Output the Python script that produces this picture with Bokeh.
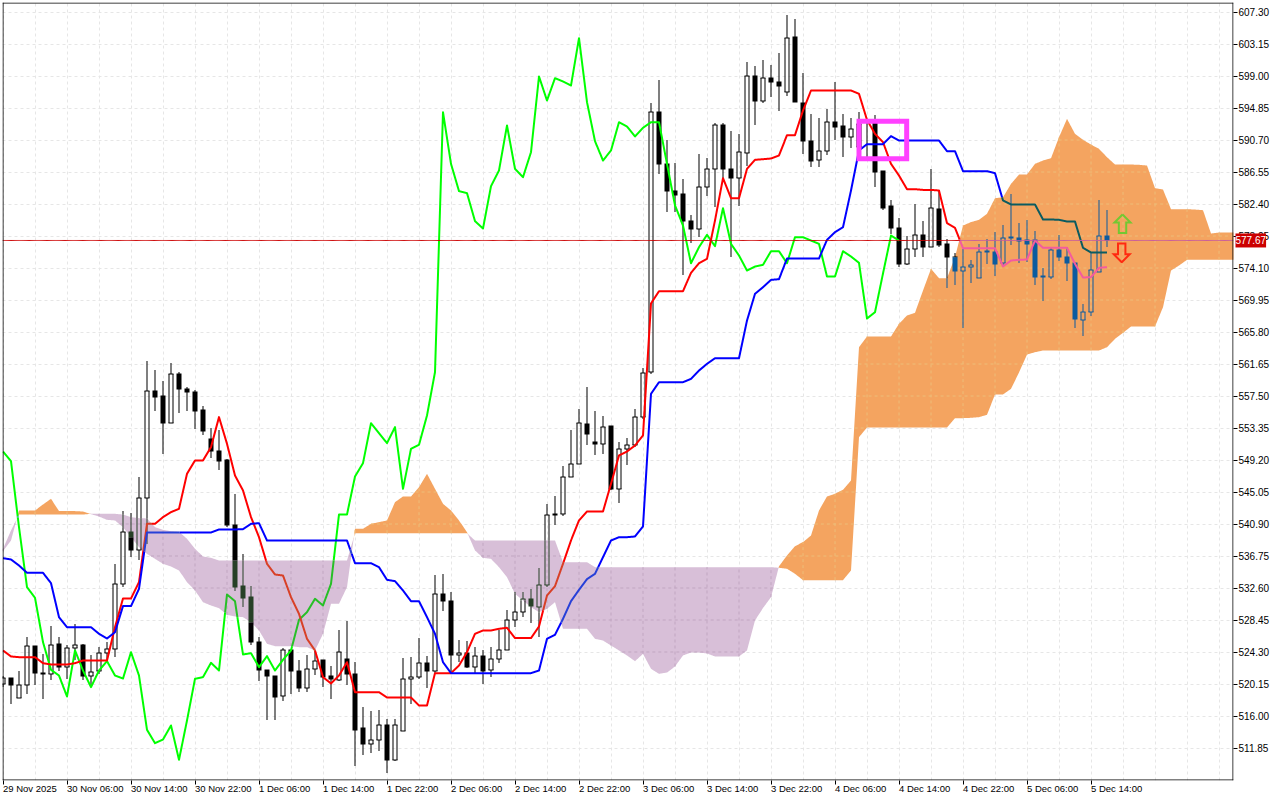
import numpy as np
from bokeh.embed import file_html
from bokeh.resources import INLINE
from bokeh.plotting import figure
from bokeh.models import FixedTicker, Label, Range1d, PrintfTickFormatter, LinearAxis

# ---- chart values -------------------------------------------------------
opens = [520.17,520.95,518.36,520.00,525.10,521.64,521.47,525.36,522.34,524.84,525.23,521.21,521.90,524.15,524.71,533.10,539.89,537.51,544.30,558.17,
 557.44,553.98,560.38,558.43,558.04,555.62,551.95,550.39,549.14,540.71,532.80,531.37,525.62,521.99,521.21,518.57,524.58,521.90,519.61,522.12,
 523.20,521.25,520.65,523.42,521.51,514.38,512.39,512.91,514.86,510.27,514.08,520.82,521.04,522.90,521.82,531.85,530.94,523.93,524.19,522.38,
 523.80,521.95,523.42,524.58,528.47,529.51,531.20,530.16,532.97,542.22,542.18,547.02,548.71,553.89,551.56,551.30,553.55,545.46,550.65,551.13,
 554.76,560.55,594.39,587.61,584.15,583.72,580.26,579.18,584.58,586.96,592.71,586.96,585.79,589.03,599.02,595.78,598.76,598.24,596.94,604.08,
 595.52,590.59,588.13,589.29,593.05,592.54,591.07,589.77,593.31,592.88,586.74,582.08,579.31,574.64,576.59,578.40,576.80,581.77,577.15,575.59,
 573.73,574.21,572.83,576.28,576.20,574.73,578.14,578.01,577.75,577.75,572.99,572.91,576.37,575.59,574.77,567.38,568.42,573.56,578.27]
highs = [521.25,520.95,521.90,526.31,525.10,523.98,527.61,526.31,525.27,527.95,525.36,523.85,525.01,525.66,535.65,542.65,542.39,547.06,561.98,560.81,
 559.51,561.72,560.64,558.73,558.22,556.14,553.37,553.11,549.35,544.81,537.03,532.88,526.31,521.99,521.21,524.84,524.58,523.29,523.85,524.50,
 523.20,522.42,527.18,528.26,522.94,517.23,516.59,516.84,515.55,515.55,523.46,523.59,526.14,523.72,534.35,534.44,532.10,525.92,525.79,524.93,
 524.50,525.01,527.18,529.77,532.02,532.06,532.49,535.13,543.43,544.47,548.36,553.03,555.84,558.73,555.49,554.93,553.63,551.56,552.08,555.84,
 561.07,595.52,598.42,590.76,587.69,585.66,580.91,588.90,588.39,592.92,592.92,591.93,591.50,600.88,600.36,601.10,600.49,601.96,606.97,606.33,
 599.37,594.09,593.57,594.74,598.28,594.09,593.49,594.39,593.40,594.00,586.74,582.94,580.61,578.19,582.42,580.18,586.96,584.24,577.88,576.02,
 576.54,575.16,577.15,577.88,578.71,579.70,583.72,579.92,580.35,578.84,574.04,576.80,578.32,576.80,574.77,569.45,576.11,582.86,581.65]
lows = [519.74,517.58,518.36,518.88,520.00,518.18,520.61,521.82,520.78,523.20,520.61,519.74,521.47,523.20,523.63,532.71,536.60,536.17,538.33,555.54,
 549.92,553.98,555.28,555.54,553.20,552.38,549.40,547.84,540.49,532.19,530.12,525.27,520.52,515.42,515.42,517.93,518.79,519.09,519.09,521.38,
 519.74,518.18,520.52,519.96,509.58,510.92,511.18,511.44,508.59,510.14,514.08,517.58,520.86,519.65,521.56,529.68,521.56,522.94,522.21,521.56,
 520.17,521.04,522.85,524.58,527.52,528.82,528.04,526.23,532.71,540.71,541.96,547.02,548.71,551.21,549.79,549.92,545.25,543.60,548.49,550.87,
 554.54,560.38,586.31,581.34,581.34,573.13,577.32,578.10,583.50,582.07,585.45,575.50,582.12,587.30,592.62,595.47,596.25,594.52,596.38,595.60,
 588.82,587.17,587.17,588.73,590.76,588.56,589.60,589.34,588.47,584.58,581.68,578.53,574.21,574.43,575.51,575.51,576.80,576.80,571.53,571.96,
 566.30,572.13,572.83,574.56,573.04,574.43,577.02,574.73,574.86,571.88,569.80,572.65,574.99,572.39,566.26,565.26,567.90,573.56,576.80]
closes = [520.95,520.00,520.00,525.10,521.56,521.47,525.23,522.34,524.84,525.23,521.25,521.69,524.15,524.67,533.14,539.89,537.51,544.30,558.17,557.35,
 553.98,560.38,558.39,558.00,555.54,552.94,550.35,549.05,540.71,532.71,531.28,525.58,521.95,521.17,518.44,524.58,521.82,519.61,522.12,523.16,
 521.04,520.74,524.32,521.43,514.21,512.35,512.91,514.86,510.27,514.86,520.82,521.08,522.90,521.86,531.85,530.94,523.89,524.19,522.34,523.80,
 521.86,523.42,524.58,528.47,529.51,531.20,530.29,533.01,542.09,542.09,547.02,548.71,554.02,552.55,551.26,553.50,545.42,550.65,551.17,554.80,
 560.51,594.39,587.56,584.06,583.63,580.26,579.13,584.63,586.96,592.67,586.92,585.75,589.16,599.06,595.73,598.76,598.20,597.72,603.95,595.60,
 590.55,587.95,589.29,593.05,592.36,591.07,592.15,592.79,592.97,586.61,581.90,579.27,574.56,576.59,578.40,576.80,581.90,577.06,575.51,573.69,
 574.25,574.51,576.20,576.20,574.60,578.01,577.97,577.58,577.19,572.91,572.91,576.37,575.51,574.73,567.47,568.42,573.78,578.27,577.67]
tenkan = [524.50,523.72,523.63,523.63,523.63,522.85,522.68,522.68,522.68,522.85,523.20,523.20,523.20,523.20,527.52,531.24,531.24,533.36,540.92,540.92,
 541.79,542.44,542.87,547.41,549.14,549.14,550.87,554.76,551.30,547.19,545.25,541.79,539.19,535.74,534.35,534.22,531.41,529.25,526.01,524.50,
 521.04,520.22,521.25,522.98,519.09,519.09,519.09,519.09,518.40,518.40,518.40,518.40,517.36,517.36,521.56,521.56,521.56,522.55,524.28,526.66,
 527.09,527.09,527.31,527.44,526.10,526.10,526.10,527.61,531.63,532.84,535.74,538.76,541.36,542.52,542.52,542.52,546.11,549.79,550.30,551.08,
 552.38,569.50,571.09,571.09,571.09,571.09,573.47,574.72,575.29,580.26,585.75,583.15,583.15,586.96,588.13,588.21,588.30,588.69,591.33,591.33,
 594.52,597.12,597.12,597.12,597.12,597.12,597.12,596.69,593.31,591.50,590.42,587.61,586.09,584.32,584.32,584.23,584.23,584.15,579.92,579.31,
 576.67,576.67,576.67,576.67,576.67,574.30,575.07,575.16,575.20,577.67,576.72,576.72,576.72,576.72,574.64,572.87,572.91,574.12,574.21]
kijun = [536.47,536.30,535.52,534.57,534.57,534.57,533.23,528.82,527.52,527.52,527.52,527.52,526.66,526.05,526.87,530.25,530.25,532.49,539.80,539.80,
 539.80,539.80,539.80,539.80,539.80,539.80,539.80,540.19,540.19,540.19,540.23,540.92,541.01,538.76,538.76,538.76,538.76,538.76,538.76,538.76,
 538.76,538.76,538.76,538.76,535.82,535.82,535.82,535.30,533.66,533.49,532.28,530.89,530.89,528.82,526.66,522.98,521.56,521.56,521.56,521.56,
 521.56,521.56,521.56,521.56,521.56,521.56,521.56,521.90,526.01,526.53,528.60,530.89,532.36,533.75,534.44,536.60,538.76,539.19,539.19,539.28,
 540.58,557.78,559.29,559.29,559.29,559.29,559.72,560.80,561.67,562.40,562.40,562.40,562.40,567.29,570.75,571.61,572.56,572.65,575.33,575.33,
 575.33,575.33,575.33,577.75,578.75,579.39,584.15,589.34,590.16,590.16,590.16,591.20,590.63,590.63,590.63,590.63,590.63,590.63,589.25,589.25,
 586.66,586.66,586.66,586.66,586.40,582.86,582.34,582.34,582.34,582.34,580.39,580.39,580.35,580.13,580.13,576.72,576.11,576.11,576.11]
chikou = [550.30,549.05,540.49,532.71,531.33,525.58,521.99,521.25,518.53,524.50,521.90,519.74,521.90,523.11,521.25,520.86,524.28,521.25,514.21,512.48,
 512.95,514.77,510.32,515.42,520.82,521.04,522.90,521.90,531.76,530.89,523.98,524.15,522.34,523.76,521.90,523.29,524.50,528.47,529.47,531.20,
 530.33,533.14,542.13,542.13,547.06,548.79,553.98,552.68,551.39,553.46,545.46,550.65,551.17,554.97,560.59,594.31,587.61,584.07,583.81,580.18,
 579.22,584.71,586.75,592.58,586.96,585.88,589.12,598.94,595.82,598.72,598.29,597.77,603.91,595.61,590.55,588.04,589.34,593.01,592.45,591.16,
 592.28,593.01,593.01,587.61,582.21,579.61,574.72,576.80,578.40,576.93,581.86,577.23,575.72,573.77,574.29,574.51,576.28,576.28,574.72,578.10,
 578.10,577.66,577.23,572.99,572.99,576.28,575.59,574.77,567.55,568.37,573.39,578.31,577.66]
span_a = [537.38,538.76,542.65,542.65,542.65,543.43,544.17,542.57,542.57,542.57,542.52,542.18,541.87,541.44,541.36,540.49,539.19,537.90,537.03,536.38,
 535.74,535.39,534.87,533.36,532.28,530.76,530.33,529.99,529.12,528.91,528.82,528.17,527.09,525.36,525.06,525.06,525.06,524.93,524.93,524.50,
 526.66,530.55,530.55,532.71,540.28,540.28,540.92,541.14,541.36,543.73,544.47,544.47,545.68,547.41,545.46,543.52,542.65,541.36,539.84,537.47,
 536.51,536.38,535.30,534.01,531.85,530.98,530.12,529.47,529.90,530.76,527.31,527.31,527.31,527.31,526.01,525.79,525.14,524.50,523.85,523.11,
 524.06,522.12,521.47,521.64,522.42,523.85,524.24,524.24,524.11,523.72,523.72,523.72,523.72,524.50,528.39,530.00,531.41,535.42,536.82,538.03,
 538.55,539.41,542.65,544.47,544.81,545.33,546.54,563.83,565.22,565.22,565.22,565.22,566.86,567.94,568.29,571.18,573.99,572.78,572.78,575.51,
 579.61,580.05,580.35,581.13,583.15,583.28,585.01,586.22,586.22,587.61,588.04,588.34,591.06,593.44,591.50,590.72,590.11,589.55,588.47,587.52,
 587.52,587.52,587.48,587.39,584.45,584.28,581.73,581.73,581.73,581.68,581.60,578.57,578.70,578.70,578.70]
span_b = [537.68,540.06,542.13,542.13,542.13,542.13,542.13,542.13,542.13,542.13,542.13,542.22,542.22,542.22,542.22,542.13,541.79,541.66,541.62,540.49,
 540.14,539.97,539.89,538.98,537.68,536.69,536.51,536.17,536.17,536.17,536.17,536.17,536.17,536.17,536.17,536.17,536.17,536.17,536.17,536.17,
 536.17,536.17,536.17,536.17,539.71,539.71,539.71,539.71,539.71,539.71,539.71,539.71,539.71,539.71,539.71,539.71,539.71,539.71,539.71,538.76,
 538.76,538.76,538.76,538.76,538.76,538.76,538.76,538.76,538.76,538.76,535.95,535.95,535.95,535.95,535.30,535.30,535.30,535.30,535.30,535.30,
 535.30,535.30,535.30,535.30,535.30,535.30,535.30,535.30,535.30,535.30,535.30,535.30,535.30,535.30,535.30,535.30,535.30,535.22,535.09,534.44,
 533.62,533.62,533.62,533.62,533.62,533.62,534.87,552.16,553.42,553.42,553.42,553.42,553.42,553.42,553.42,553.42,553.42,553.42,553.42,554.63,
 554.63,554.67,554.76,555.06,557.70,557.70,558.43,560.55,562.88,563.18,563.40,563.40,563.40,563.40,563.40,563.40,563.40,563.40,563.83,564.91,
 565.69,566.51,566.51,566.51,566.51,569.02,573.77,574.42,575.16,575.16,575.16,575.16,575.16,575.16,575.16]
time_labels = ["29 Nov 2025","30 Nov 06:00","30 Nov 14:00","30 Nov 22:00","1 Dec 06:00","1 Dec 14:00","1 Dec 22:00","2 Dec 06:00","2 Dec 14:00",
 "2 Dec 22:00","3 Dec 06:00","3 Dec 14:00","3 Dec 22:00","4 Dec 06:00","4 Dec 14:00","4 Dec 22:00","5 Dec 06:00","5 Dec 14:00"]
price_ticks = [607.30,603.15,599.00,594.85,590.70,586.55,582.40,578.25,574.10,569.95,565.80,561.65,557.50,553.35,549.20,545.05,540.90,536.75,532.60,528.45,524.30,520.15,516.00,511.85]
last_price = 577.67
box_bars = (107.0, 112.96)
box_prices = (593.13, 588.28)
up_arrow = (139.94, 581.04)    # bar and tip price
down_arrow = (139.84, 574.85)

# ---- frame --------------------------------------------------------------
PX = 1/8.0                # one pixel in bar units
PY = 4.15/32.0            # one pixel in price units
FW, FH = 1231, 778
x0 = -0.5*PX
x1 = x0 + FW*PX
y1 = 607.30 + 9.5*PY
y0 = y1 - FH*PY

idx = np.arange(len(span_a), dtype=float)
A = np.array(span_a); B = np.array(span_b)

ORANGE = (244,164,96); PURPLE = (216,191,216)
def inv(c): return tuple(255-v for v in c)
def xor(c, state):
    if state == 0: return c
    m = inv(ORANGE) if state == 1 else inv(PURPLE)
    return tuple(a ^ b for a, b in zip(c, m))
def hexc(c): return "#%02x%02x%02x" % c

def state_at(x, y):
    a = np.interp(x, idx, A); b = np.interp(x, idx, B)
    s = np.zeros_like(y, dtype=int)
    inside = (y > np.minimum(a, b)) & (y < np.maximum(a, b))
    s[inside & (a > b)] = 1
    s[inside & (a <= b)] = 2
    return s

def snap(v):
    return y1 - (np.round((y1 - v)/PY - 0.5) + 0.5)*PY

def split_poly(xs, ys, sub=80):
    """cut a polyline in runs by the cloud it lies in"""
    t = np.linspace(0, len(xs)-1, (len(xs)-1)*sub+1)
    k = np.arange(len(xs))
    fx, fy = np.interp(t, k, xs), np.interp(t, k, ys)
    st = state_at(fx, fy)
    runs = {0: ([], []), 1: ([], []), 2: ([], [])}
    start = 0
    for j in range(1, len(fx)+1):
        if j == len(fx) or st[j] != st[start]:
            e = min(j, len(fx)-1)
            runs[int(st[start])][0].append(fx[start:e+1])
            runs[int(st[start])][1].append(fy[start:e+1])
            start = j
    return runs

def split_v(x, lo, hi):
    """cut a vertical span at bar x in pieces by cloud"""
    a = np.interp(x, idx, A); b = np.interp(x, idx, B)
    cuts = sorted({lo, hi} | {v for v in (a, b) if lo < v < hi})
    out = []
    for u, v in zip(cuts[:-1], cuts[1:]):
        m = 0.5*(u+v)
        if min(a, b) < m < max(a, b):
            out.append((u, v, 1 if a > b else 2))
        else:
            out.append((u, v, 0))
    return out

p = figure(width=1280, height=800, output_backend="svg", toolbar_location=None,
           x_range=Range1d(x0, x1), y_range=Range1d(y0, y1),
           frame_width=FW, frame_height=FH, min_border_left=2, min_border_top=2,
           min_border_right=1280-2-FW, min_border_bottom=800-2-FH,
           x_axis_location="below", y_axis_location="right")
p.outline_line_color = None
p.background_fill_color = "white"
p.border_fill_color = "white"

# grid
GRID = (230, 230, 230)
p.xgrid.ticker = FixedTicker(ticks=list(range(0, 156, 4)))
p.ygrid.ticker = FixedTicker(ticks=price_ticks)
for g in (p.xgrid, p.ygrid):
    g.grid_line_color = hexc(GRID); g.grid_line_dash = "3 3"; g.grid_line_width = 1

# cloud: one area per stretch between crossings
xs_all = np.linspace(0, idx[-1], int(idx[-1])*16+1)
a_all = np.interp(xs_all, idx, A); b_all = np.interp(xs_all, idx, B)
bull = a_all > b_all
start = 0
for j in range(1, len(xs_all)+1):
    if j == len(xs_all) or bull[j] != bull[start]:
        e = min(j+1, len(xs_all))
        s0 = max(start-1, 0)
        p.varea(x=xs_all[s0:e], y1=a_all[s0:e], y2=b_all[s0:e],
                fill_color=hexc(ORANGE if bull[start] else PURPLE), fill_alpha=1.0)
        start = j

# grid inside cloud
gx, gy, gc = [], [], []
for gi in range(0, 156, 4):
    for u, v, s in split_v(float(gi), y0, y1):
        if s: gx.append([gi, gi]); gy.append([u, v]); gc.append(hexc(xor(GRID, s)))
for tick in price_ticks:
    fx = np.linspace(0, idx[-1], 1300); st = state_at(fx, np.full_like(fx, tick))
    start = 0
    for j in range(1, len(fx)+1):
        if j == len(fx) or st[j] != st[start]:
            if st[start]:
                gx.append([fx[start], fx[j-1]]); gy.append([tick, tick]); gc.append(hexc(xor(GRID, int(st[start]))))
            start = j
p.multi_line(gx, gy, line_color=gc, line_width=1, line_dash="3 3")

# candles: every stroke a filled, pixel-wide box
BLACK = (0, 0, 0)
bl, br, bt, bb, bc = [], [], [], [], []
def box(l, r, b, t, col):
    bl.append(l); br.append(r); bb.append(b); bt.append(t); bc.append(col)
for i, (o, h, l, c) in enumerate(zip(opens, highs, lows, closes)):
    top, bot = snap(max(o, c)), snap(min(o, c))
    if top <= bot: top = bot + PY
    hi, lo = snap(h), snap(l)
    for span in ((top, max(hi, top)), (min(lo, bot), bot)):
        if span[1] > span[0]:
            for u, v, s in split_v(float(i), span[0], span[1]):
                box(i-0.5*PX, i+0.5*PX, u, v, hexc(xor(BLACK, s)))
    if c >= o:      # hollow body, outline only
        for u, v, s in split_v(float(i), bot, top):
            col = hexc(xor(BLACK, s))
            for side in (-2*PX, 2*PX):
                box(i+side-0.5*PX, i+side+0.5*PX, u, v, col)
        for e in (top, bot):
            s = int(state_at(np.array([float(i)]), np.array([e]))[0])
            box(i-2.5*PX, i+2.5*PX, e-0.5*PY, e+0.5*PY, hexc(xor(BLACK, s)))
    else:
        for u, v, s in split_v(float(i), bot-0.5*PY, top+0.5*PY):
            box(i-2.5*PX, i+2.5*PX, u, v, hexc(xor(BLACK, s)))
p.quad(left=bl, right=br, top=bt, bottom=bb, fill_color=bc, line_color=None)

# indicator lines
def draw(series, color, width=2):
    xs = np.arange(len(series), dtype=float)
    runs = split_poly(xs, np.array(series))
    for s, (rx, ry) in runs.items():
        if rx:
            p.multi_line([list(v) for v in rx], [list(v) for v in ry],
                         line_color=hexc(xor(color, s)), line_width=width, line_join="round")

draw(chikou, (0, 255, 0))
draw(tenkan, (255, 0, 0))
draw(kijun, (0, 0, 255))

# last-price line
pl = (204, 0, 0)
for s, (rx, ry) in split_poly(np.array([x0, x1]), np.array([last_price, last_price]), sub=1300).items():
    if rx:
        p.multi_line([list(v) for v in rx], [list(v) for v in ry], line_color=hexc(xor(pl, s)), line_width=1)

# highlight box
p.quad(left=box_bars[0], right=box_bars[1], top=box_prices[0], bottom=box_prices[1],
       fill_color=None, line_color="#ff40ff", line_width=5, line_join="miter")

# signal arrows
def arrow(bar, price, sign, color):
    sx = [0, 8, 3.7, 3.7, -3.7, -3.7, -8, 0]
    sy = [0, 8, 8, 18.6, 18.6, 8, 8, 0]
    p.line([bar + v*PX for v in sx], [price - sign*v*PY for v in sy], line_color=color, line_width=2, line_join="miter")
arrow(up_arrow[0], up_arrow[1], 1, "#73c832")
arrow(down_arrow[0], down_arrow[1], -1, "#ff2a10")

# frame lines
lx, rx_ = x0 + 0.5*PX, x1 - 0.5*PX
by, ty = y0 + 0.5*PY, y1 - 0.5*PY
p.multi_line([[lx, lx], [rx_, rx_], [x0, x1], [x0, x1]], [[y0, y1], [y0, y1], [by, by], [ty, ty]], line_color="black", line_width=1)

# axes
FONT = "Liberation Sans"
ya = p.yaxis[0]
ya.ticker = FixedTicker(ticks=price_ticks)
ya.formatter = PrintfTickFormatter(format="%.2f")
ya.axis_line_color = None
ya.major_tick_line_color = "black"; ya.major_tick_out = 4; ya.major_tick_in = 0
ya.minor_tick_line_color = None
ya.major_label_standoff = 1
ya.major_label_text_font = FONT; ya.major_label_text_font_size = "10px"; ya.major_label_text_color = "black"

xa = p.xaxis[0]
xa.ticker = FixedTicker(ticks=[8*k for k in range(len(time_labels))])
xa.axis_line_color = None
xa.major_tick_line_color = "black"; xa.major_tick_out = 4; xa.major_tick_in = 0
xa.minor_tick_line_color = None
xa.major_label_overrides = {8*k: "" for k in range(len(time_labels))}
xa.major_label_text_font_size = "1px"
xa.major_label_standoff = 0

# labels start at their tick: the label axis carries ticks shifted by half a label width
CH = {" ": 2.78, ":": 2.78, "N": 7.22, "D": 7.22, "o": 5.56, "e": 5.56, "v": 5.0, "c": 5.0}
def label_width(t): return sum(CH.get(ch, 5.56) for ch in t)*0.95
label_pos = [round(8*k + 0.5*label_width(t)*PX, 4) for k, t in enumerate(time_labels)]
xb = LinearAxis(ticker=FixedTicker(ticks=label_pos),
                major_label_overrides=dict(zip(label_pos, time_labels)),
                axis_line_color=None, major_tick_line_color=None, minor_tick_line_color=None,
                major_tick_out=0, major_tick_in=0, major_label_standoff=-2,
                major_label_text_font=FONT, major_label_text_font_size="9.5px", major_label_text_color="black")
p.add_layout(xb, "below")

# price tag
p.add_layout(Label(x=-37, y=(last_price-y0)/PY, x_units="screen", y_units="screen", text="%.2f" % last_price, text_font=FONT,
                   text_font_size="10px", text_color="white", text_align="left", text_baseline="middle",
                   background_fill_color="#cc0000", padding=(0, 3)), "right")

open("out.html", "w").write(file_html(p, INLINE))
